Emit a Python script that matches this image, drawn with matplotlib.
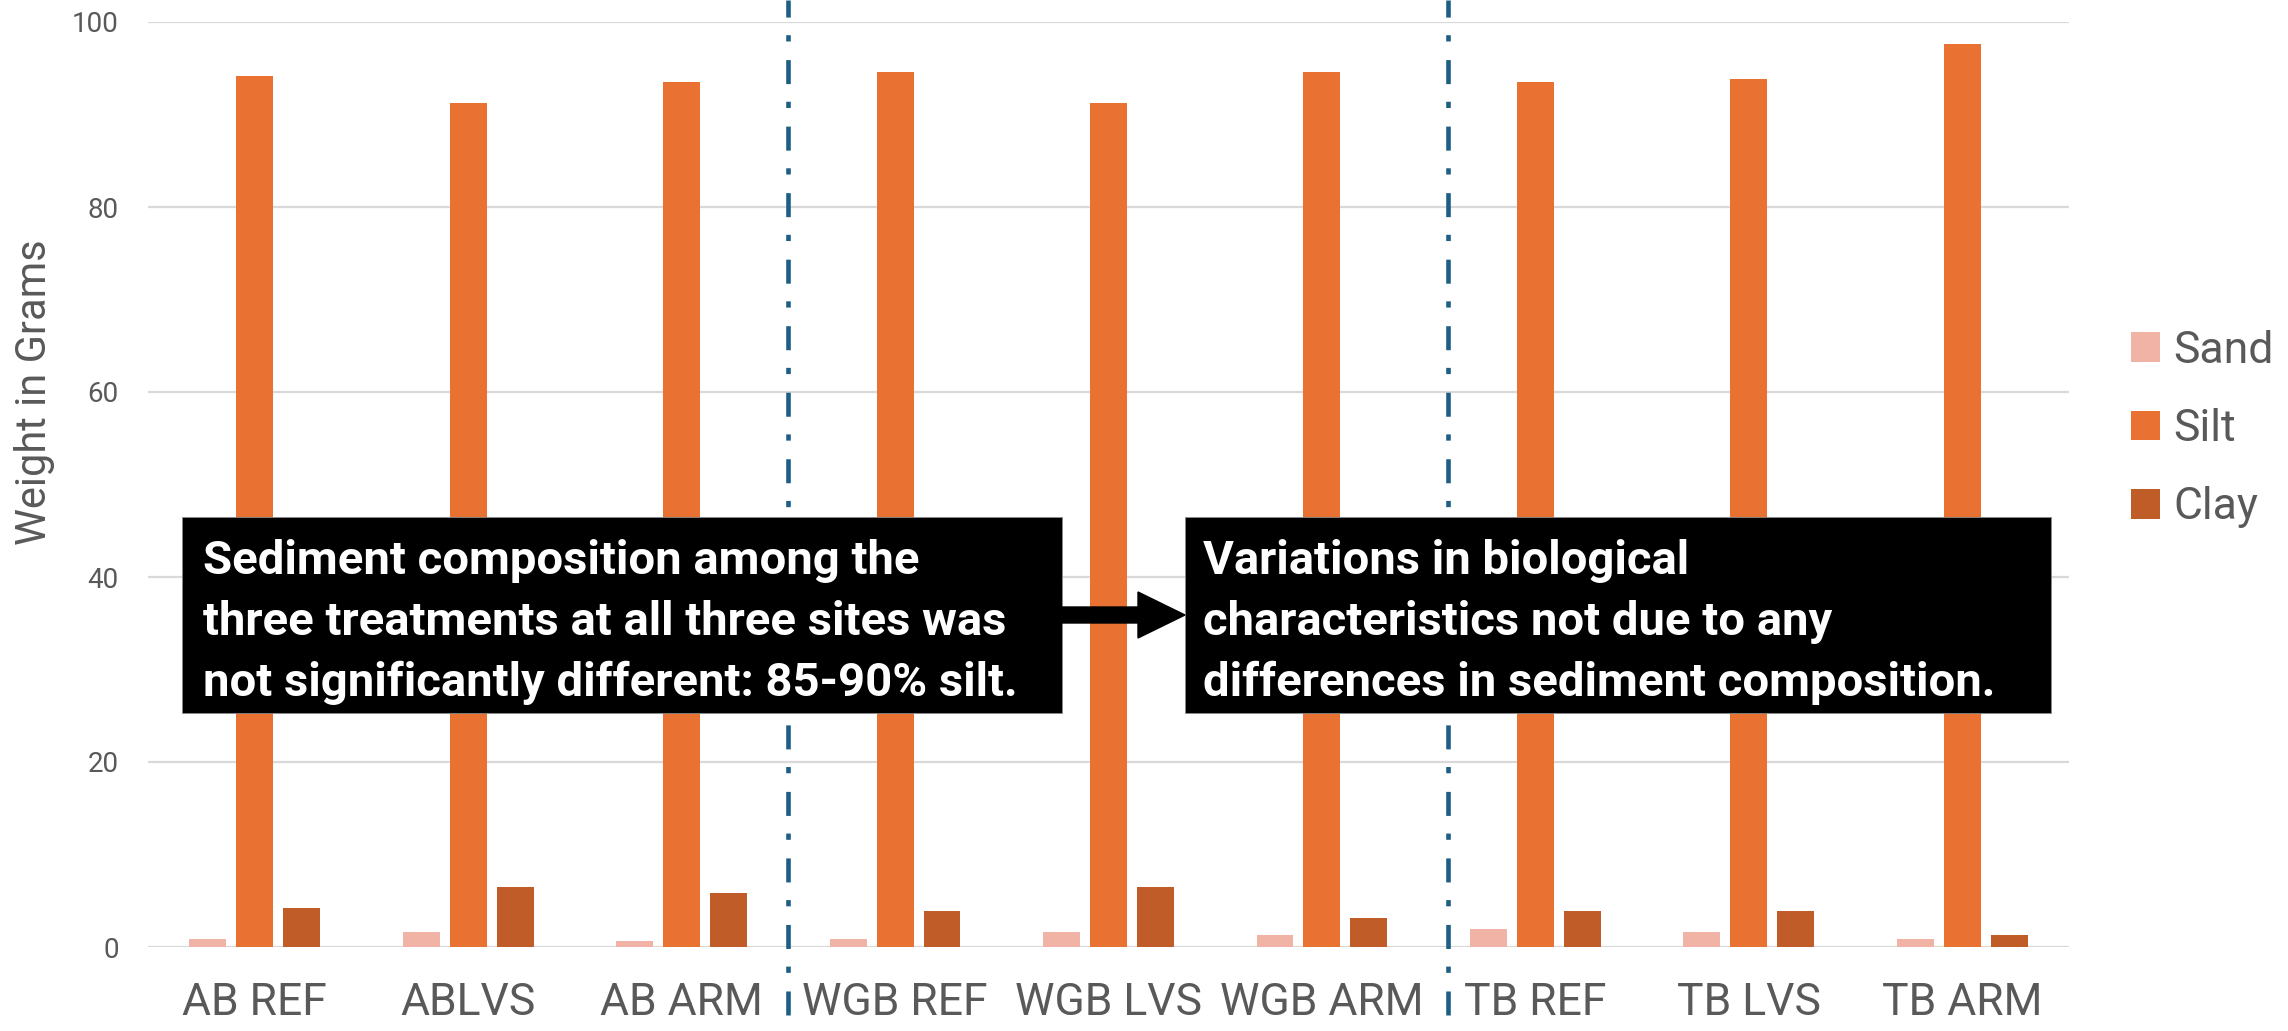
import matplotlib
matplotlib.use("Agg")
from matplotlib import pyplot as plt
from matplotlib import transforms
from matplotlib.patches import Rectangle, FancyArrow
import numpy as np

categories = ["AB REF", "ABLVS", "AB ARM", "WGB REF", "WGB LVS", "WGB ARM",
              "TB REF", "TB LVS", "TB ARM"]
sand = [0.9, 1.65, 0.6, 0.9, 1.65, 1.3, 2.0, 1.65, 0.9]
silt = [94.2, 91.2, 93.5, 94.6, 91.2, 94.6, 93.5, 93.8, 97.6]
clay = [4.25, 6.5, 5.8, 3.9, 6.5, 3.15, 3.9, 3.9, 1.3]
series_names = ["Sand", "Silt", "Clay"]
y_ticks = [0, 20, 40, 60, 80, 100]
site_breaks = [2.5, 5.59]

note_left = ("Sediment composition among the\n"
             "three treatments at all three sites was\n"
             "not significantly different: 85-90% silt.")
note_right = ("Variations in biological\n"
              "characteristics not due to any\n"
              "differences in sediment composition.")

colors = ["#F1B3A5", "#E97132", "#C05C28"]
grey_text = "#595959"
plt.rcParams['lines.scale_dashes'] = False

fig = plt.figure(figsize=(22.88, 10.31), dpi=100)
ax = fig.add_axes([148 / 2288, 84 / 1031, (2069 - 148) / 2288, (947 - 22) / 1031])

x = np.arange(len(categories))
width = 0.173
offsets = [-0.22, 0.0, 0.22]
bars = []
for vals, off, col, name in zip([sand, silt, clay], offsets, colors, series_names):
    bars.append(ax.bar(x + off, vals, width, color=col, label=name, zorder=2))

ax.set_xlim(-0.5, len(categories) - 0.5)
ax.set_ylim(0, 100)
ax.set_yticks(y_ticks)
ax.set_xticks(x)
ax.set_xticklabels(categories, fontsize=32, color=grey_text,
                   family=["Liberation Sans Narrow", "Roboto"])
for lbl in ax.get_yticklabels():
    lbl.set_fontsize(20)
    lbl.set_color(grey_text)
    lbl.set_family("Roboto")
ax.tick_params(axis="x", length=0, pad=25)
ax.tick_params(axis="y", length=0, pad=21)
for s in ax.spines.values():
    s.set_visible(False)
ax.grid(axis="y", color="#D9D9D9", linewidth=1.6, zorder=0)
ax.set_axisbelow(True)

fig.text(35 / 2288, 0.62, "Weight in Grams", rotation=90, ha="center", va="center",
         fontsize=30, color=grey_text, family="Roboto")

# site separators, running the full figure height
blend = transforms.blended_transform_factory(ax.transData, fig.transFigure)
for xb in site_breaks:
    ax.plot([xb, xb], [1, 0], transform=blend, clip_on=False, color="#1D5F84",
            linewidth=3.3, linestyle=(5, (17.3, 12.7, 4.5, 13.4)), zorder=3)

fig.legend(handles=bars, labels=series_names, loc="center left",
           bbox_to_anchor=(2091 / 2288, (1031 - 429) / 1031), frameon=False,
           handlelength=0.65, handleheight=0.65, handletextpad=0.3,
           labelspacing=0.82, labelcolor=grey_text, prop={"family": "Roboto", "size": 32})

# annotation boxes (inches from bottom-left)
inch = fig.dpi_scale_trans
fig.add_artist(Rectangle((1.82, 3.18), 8.80, 1.96, transform=inch, facecolor="black",
                         edgecolor="#8a8a8a", linewidth=0.6, zorder=5))
fig.add_artist(Rectangle((11.85, 3.18), 8.66, 1.96, transform=inch, facecolor="black",
                         edgecolor="#8a8a8a", linewidth=0.6, zorder=5))
fig.add_artist(FancyArrow(10.60, 4.16, 1.25, 0, width=0.16, head_width=0.46,
                          head_length=0.47, length_includes_head=True, transform=inch,
                          color="black", zorder=6))
fig.text(2.03, 4.09, note_left, transform=inch, ha="left", va="center", color="white",
         fontsize=34, fontweight="bold", family="Roboto", linespacing=1.48, zorder=7)
fig.text(12.03, 4.09, note_right, transform=inch, ha="left", va="center", color="white",
         fontsize=34, fontweight="bold", family="Roboto", linespacing=1.48, zorder=7)

fig.savefig("out.png", dpi=100)
